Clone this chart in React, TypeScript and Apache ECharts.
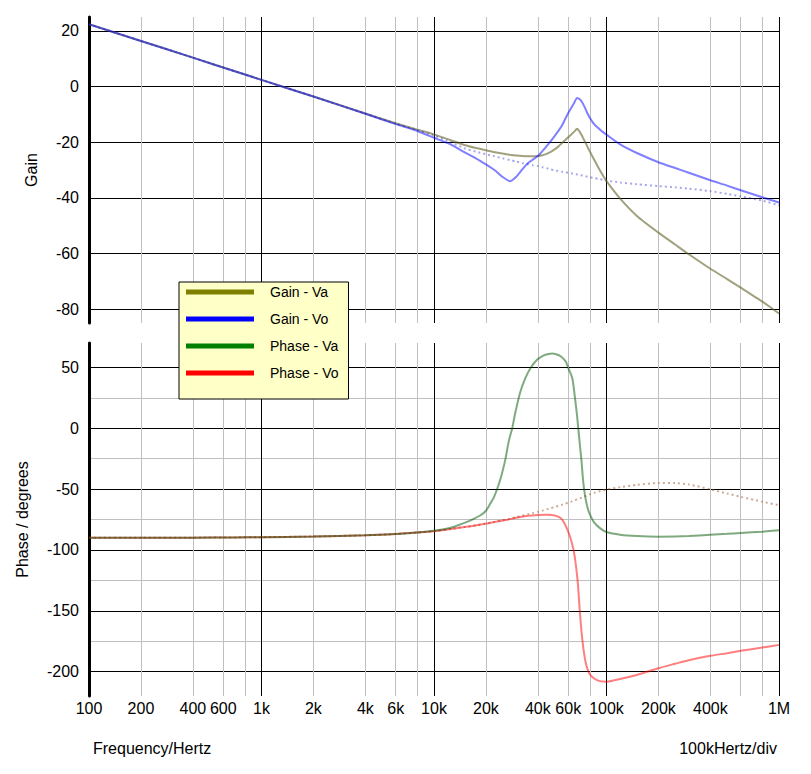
import React, { useEffect, useRef } from "react";
import * as echarts from "echarts";

// Frequencies (Hz) at which the gain traces and the dotted phase trace were read
const FREQ_HZ = [
  100, 200, 400, 700, 1000, 2000, 4000, 6000, 8000, 10000,
  12500, 15000, 17500, 20000, 22500, 25000, 27500, 30000, 32500, 35000,
  37500, 40000, 42500, 45000, 47500, 50000, 52500, 55000, 57500, 60000,
  62500, 65000, 67500, 70000, 72500, 75000, 77500, 80000, 85000, 90000,
  95000, 100000, 120000, 150000, 200000, 250000, 300000, 400000, 500000, 600000,
  800000, 1000000,
];

// Gain (dB)
const GAIN_VA = [
  22.4, 16.4, 10.4, 5.5, 2.4, -3.6, -9.7, -13.2, -15.5, -17.2,
  -19.3, -21.0, -22.1, -22.9, -23.6, -24.1, -24.5, -24.8, -25.0, -25.1,
  -25.1, -25.0, -24.7, -24.2, -23.5, -22.6, -21.6, -20.4, -19.3, -18.2,
  -17.2, -16.2, -15.2, -16.3, -18.0, -19.8, -21.6, -23.3, -26.4, -29.3,
  -31.8, -34.0, -40.3, -46.5, -52.5, -56.8, -60.3, -65.5, -69.2, -72.3,
  -77.3, -81.6,
];
const GAIN_VO = [
  22.4, 16.4, 10.4, 5.5, 2.4, -3.6, -9.8, -13.5, -16.0, -18.4,
  -20.8, -23.6, -25.8, -28.0, -30.1, -32.5, -34.0, -32.4, -29.8, -27.6,
  -26.2, -25.0, -23.2, -21.4, -19.6, -17.8, -16.0, -14.2, -11.8, -9.5,
  -7.6, -5.8, -4.1, -4.6, -5.8, -7.6, -9.6, -11.2, -13.6, -15.0,
  -16.3, -17.3, -20.8, -23.9, -27.2, -29.3, -31.0, -33.7, -35.6, -37.3,
  -39.8, -41.7,
];
const GAIN_REF = [
  22.4, 16.4, 10.4, 5.5, 2.4, -3.6, -9.7, -13.3, -15.6, -17.6,
  -20.0, -22.2, -23.4, -24.3, -25.1, -25.8, -26.4, -27.0, -27.5, -27.9,
  -28.3, -28.6, -29.0, -29.4, -29.8, -30.1, -30.4, -30.6, -30.8, -31.0,
  -31.2, -31.4, -31.6, -31.8, -32.0, -32.2, -32.4, -32.6, -32.9, -33.2,
  -33.5, -33.8, -34.5, -35.1, -35.8, -36.2, -36.7, -37.6, -38.6, -39.5,
  -41.0, -42.7,
];

// Phase (degrees), dotted trace on FREQ_HZ
const PHASE_REF = [
  -90.0, -90.0, -89.9, -89.7, -89.5, -89.0, -88.0, -86.9, -85.7, -84.6,
  -82.8, -81.2, -79.8, -78.3, -77.0, -75.6, -74.3, -73.1, -71.9, -70.8,
  -69.7, -68.7, -67.7, -66.7, -65.7, -64.8, -63.9, -63.0, -62.1, -61.2,
  -60.3, -59.4, -58.5, -57.6, -56.8, -56.0, -55.2, -54.4, -53.1, -52.0,
  -51.1, -50.4, -48.4, -46.6, -45.0, -45.1, -46.2, -50.2, -53.6, -56.4,
  -60.4, -63.3,
];

// Phase - Va, read at its own frequencies
const PHASE_VA_HZ = [
  100, 200, 400, 700, 1000, 2000, 4000, 6000, 8000, 10000,
  12500, 14500, 16300, 18600, 20000, 21200, 22200, 23100, 24000, 24800,
  26000, 27100, 28400, 29700, 31700, 33900, 36300, 39700, 43300, 46000,
  48500, 51000, 54200, 57900, 60000, 63300, 65300, 67100, 68600, 70100,
  71700, 73300, 75600, 79000, 84500, 92400, 100000, 120000, 150000, 200000,
  250000, 300000, 400000, 500000, 600000, 800000, 1000000,
];
const PHASE_VA = [
  -90.0, -90.0, -89.9, -89.7, -89.5, -89.0, -88.0, -86.9, -85.6, -84.2,
  -81.8, -78.6, -75.7, -71.5, -67.8, -61.9, -57.0, -50.9, -44.0, -37.1,
  -24.8, -11.0, 0.0, 13.7, 30.2, 41.3, 49.5, 56.4, 59.9, 60.9,
  61.3, 60.7, 59.1, 55.0, 49.5, 41.3, 27.5, 13.7, 0.0, -13.8,
  -27.6, -44.0, -57.8, -68.8, -77.1, -82.5, -85.3, -87.5, -88.6, -89.1,
  -89.0, -88.6, -87.5, -86.8, -86.1, -85.0, -83.9,
];

// Phase - Vo, read at its own frequencies
const PHASE_VO_HZ = [
  100, 200, 400, 700, 1000, 2000, 4000, 6000, 8000, 10000,
  12500, 16300, 20000, 25500, 30000, 35000, 39700, 45000, 48500, 51500,
  54200, 56500, 59000, 62000, 65000, 68000, 70000, 72200, 75400, 80000,
  88600, 100000, 120000, 150000, 200000, 250000, 300000, 400000, 500000, 600000,
  800000, 1000000,
];
const PHASE_VO = [
  -90.0, -90.0, -89.9, -89.7, -89.5, -89.0, -88.0, -86.9, -85.7, -84.6,
  -82.8, -80.6, -78.4, -75.7, -73.6, -72.0, -71.3, -71.0, -71.3, -72.2,
  -73.7, -77.0, -82.5, -90.8, -103.0, -125.2, -150.0, -172.0, -191.2, -202.2,
  -207.1, -208.2, -206.0, -202.7, -197.2, -193.5, -190.6, -187.0, -184.8, -182.9,
  -180.2, -178.0,
];

// Axis ticks / labels
const X_GRID_HZ = [
  100, 200, 400, 600, 800, 1000, 2000, 4000, 6000, 8000, 10000, 20000, 40000,
  60000, 80000, 100000, 200000, 400000, 600000, 800000, 1000000,
];
const X_LABEL_HZ = [
  100, 200, 400, 600, 1000, 2000, 4000, 6000, 10000, 20000, 40000, 60000,
  100000, 200000, 400000, 1000000,
];
const GAIN_TICKS = [-80, -60, -40, -20, 0, 20];
const PHASE_LABELS = [-200, -150, -100, -50, 0, 50];
const PHASE_GRID = [-200, -175, -150, -125, -100, -75, -50, -25, 0, 25, 50];

const LEGEND_ITEMS = [
  { name: "Gain - Va", color: "#808000" },
  { name: "Gain - Vo", color: "#0000ff" },
  { name: "Phase - Va", color: "#008000" },
  { name: "Phase - Vo", color: "#ff0000" },
];

const FONT = '"Liberation Sans", Arial, sans-serif';

function fmtHz(v: number): string {
  const f = Math.round(Math.pow(10, v));
  if (f >= 1e6) return f / 1e6 + "M";
  if (f >= 1e3) return f / 1e3 + "k";
  return String(f);
}

const pts = (freqs: number[], vals: number[]) =>
  freqs.map((f, i) => [Math.log10(f), vals[i]]);

export default function App() {
  const ref = useRef<HTMLDivElement>(null);

  useEffect(() => {
    if (!ref.current) return;
    const chart = echarts.init(ref.current, undefined, { renderer: "svg" });

    const xMin = Math.log10(100);
    const xMax = Math.log10(1000000);
    const xGrid = X_GRID_HZ.map((f) => Math.log10(f));
    const xLabels = X_LABEL_HZ.map((f) => Math.log10(f));

    const makeX = (gridIndex: number, showLabels: boolean) => ({
      type: "value",
      gridIndex,
      min: xMin,
      max: xMax,
      axisLine: { show: false },
      axisTick: { show: false, customValues: xGrid },
      axisLabel: {
        show: showLabels,
        customValues: xLabels,
        formatter: (v: number) => fmtHz(v),
        fontSize: 16,
        fontFamily: FONT,
        color: "#000",
        margin: 4,
      },
      splitLine: {
        show: true,
        lineStyle: {
          color: ["#000000", "#c0c0c0", "#c0c0c0", "#c0c0c0", "#c0c0c0"],
          width: 1,
        },
      },
    });

    const line = (
      name: string,
      freqs: number[],
      vals: number[],
      axis: number,
      color: string,
      dotted = false,
      smooth = 0.2
    ) => ({
      type: "line",
      name,
      xAxisIndex: axis,
      yAxisIndex: axis,
      data: pts(freqs, vals),
      symbol: "none",
      showSymbol: false,
      smooth,
      itemStyle: { color },
      lineStyle: { color, width: 2, type: dotted ? [2, 3] : "solid" },
      emphasis: { disabled: true },
    });

    chart.setOption({
      animation: false,
      backgroundColor: "#ffffff",
      textStyle: { fontFamily: FONT },
      grid: [
        { left: 89, right: 32, top: 17, height: 306, containLabel: false, outerBoundsMode: "none" },
        { left: 89, right: 32, top: 343, height: 353, containLabel: false, outerBoundsMode: "none" },
      ],
      xAxis: [makeX(0, false), makeX(1, true)],
      yAxis: [
        {
          type: "value",
          gridIndex: 0,
          min: -85,
          max: 25,
          name: "Gain",
          nameLocation: "middle",
          nameGap: 50,
          nameTextStyle: { fontSize: 16, fontFamily: FONT, color: "#000" },
          axisLine: { show: true, onZero: false, lineStyle: { color: "#000", width: 3 } },
          axisTick: { show: false, customValues: GAIN_TICKS },
          axisLabel: {
            customValues: GAIN_TICKS,
            fontSize: 16,
            fontFamily: FONT,
            color: "#000",
            margin: 10,
          },
          splitLine: { show: true, lineStyle: { color: "#000", width: 1 } },
        },
        {
          type: "value",
          gridIndex: 1,
          min: -220,
          max: 70,
          name: "Phase / degrees",
          nameLocation: "middle",
          nameGap: 59,
          nameTextStyle: { fontSize: 16, fontFamily: FONT, color: "#000" },
          axisLine: { show: true, onZero: false, lineStyle: { color: "#000", width: 3 } },
          axisTick: { show: false, customValues: PHASE_GRID },
          axisLabel: {
            customValues: PHASE_LABELS,
            fontSize: 16,
            fontFamily: FONT,
            color: "#000",
            margin: 10,
          },
          splitLine: {
            show: true,
            lineStyle: { color: ["#000000", "#c0c0c0"], width: 1 },
          },
        },
      ],
      legend: {
        data: LEGEND_ITEMS.map((it) => ({
          name: it.name,
          icon: "rect",
          itemStyle: { color: it.color, borderWidth: 0, opacity: 1 },
        })),
        orient: "vertical",
        left: 179,
        top: 282,
        padding: [2, 10, 18, 7],
        itemWidth: 68,
        itemHeight: 5,
        itemGap: 11,
        icon: "rect",
        selectedMode: false,
        backgroundColor: "#ffffc8",
        borderColor: "#000",
        borderWidth: 1,
        borderRadius: 0,
        textStyle: {
          fontSize: 14,
          fontFamily: FONT,
          color: "#000",
          lineHeight: 16,
          padding: [0, 0, 0, 11],
        },
      },
      graphic: [
        {
          type: "text",
          left: 93,
          top: 740,
          style: { text: "Frequency/Hertz", font: `16px ${FONT}`, fill: "#000" },
        },
        {
          type: "text",
          right: 34,
          top: 740,
          style: { text: "100kHertz/div", font: `16px ${FONT}`, fill: "#000" },
        },
      ],
      series: [
        line("Gain - reference", FREQ_HZ, GAIN_REF, 0, "rgba(0,0,200,0.35)", true),
        line("Gain - Va", FREQ_HZ, GAIN_VA, 0, "rgba(100,98,40,0.6)"),
        line("Gain - Vo", FREQ_HZ, GAIN_VO, 0, "rgba(0,0,255,0.5)"),
        line("Phase - reference", FREQ_HZ, PHASE_REF, 1, "rgba(140,70,30,0.45)", true),
        line("Phase - Vo", PHASE_VO_HZ, PHASE_VO, 1, "rgba(255,0,0,0.5)", false, 0.3),
        line("Phase - Va", PHASE_VA_HZ, PHASE_VA, 1, "rgba(0,85,0,0.5)", false, 0.3),
      ],
    });

    return () => chart.dispose();
  }, []);

  return (
    <div
      ref={ref}
      style={{ position: "fixed", left: 0, top: 0, width: 811, height: 774 }}
    />
  );
}
